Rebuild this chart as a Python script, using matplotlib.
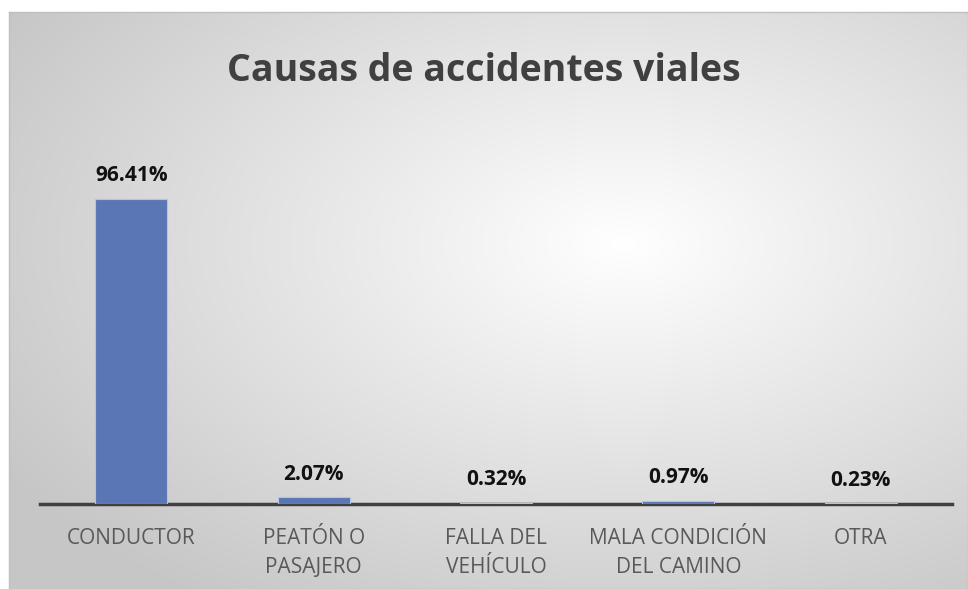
import matplotlib.pyplot as plt
import numpy as np

categories = ['CONDUCTOR', 'PEATÓN O\nPASAJERO', 'FALLA DEL\nVEHÍCULO',
              'MALA CONDICIÓN\nDEL CAMINO', 'OTRA']
values = [96.41, 2.07, 0.32, 0.97, 0.23]
labels = ['96.41%', '2.07%', '0.32%', '0.97%', '0.23%']

W, H = 968, 589
fig = plt.figure(figsize=(W / 100, H / 100), dpi=100)

# chart area with radial gradient background
bg = fig.add_axes([9 / W, 0, (W - 9) / W, (H - 12) / H])
yy, xx = np.mgrid[0:300, 0:500]
cx, cy = 320, 120
r = np.sqrt(((xx - cx) / 500) ** 2 + ((yy - cy) / 300) ** 2)
r = np.clip(r / 0.75, 0, 1)
shade = 1.0 - 0.22 * r
img = np.dstack([shade, shade, shade])
bg.imshow(img, aspect='auto', extent=[0, 1, 0, 1], origin='upper')
bg.set_xlim(0, 1)
bg.set_ylim(0, 1)
bg.set_xticks([])
bg.set_yticks([])
for s in bg.spines.values():
    s.set_color('#bfbfbf')
    s.set_linewidth(1)

ax = fig.add_axes([40 / W, (H - 504) / H, 912 / W, 380 / H])
ax.patch.set_alpha(0)
x = np.arange(len(categories))
ax.bar(x, values, width=0.395, color='#5b76b4', edgecolor='#b4c2e4', linewidth=0.8, zorder=3)
for xi, v, lab in zip(x, values, labels):
    ax.text(xi, v + 4.0, lab, ha='center', va='bottom', fontsize=15,
            fontweight='bold', color='#111111', family='Open Sans')

ax.set_xlim(-0.5, len(categories) - 0.5)
ax.set_ylim(0, 120)
ax.set_yticks([])
ax.set_xticks(x)
ax.set_xticklabels(categories, fontsize=15, color='#595959', family='Open Sans', linespacing=1.5)
ax.tick_params(axis='x', length=0, pad=17)
for s in ['top', 'right', 'left']:
    ax.spines[s].set_visible(False)
ax.spines['bottom'].set_color('#404040')
ax.spines['bottom'].set_linewidth(2.5)

fig.text(484 / W, 1 - 71 / H, 'Causas de accidentes viales', ha='center', va='center',
         fontsize=27, fontweight='bold', color='#404040', family='Open Sans')

fig.savefig('out.png', dpi=100, facecolor='white')
